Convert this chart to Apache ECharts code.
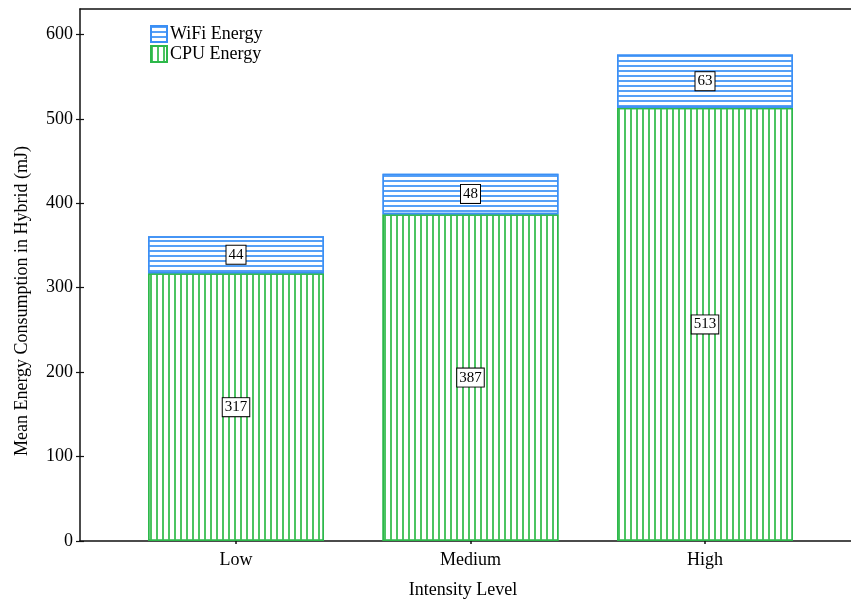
<!DOCTYPE html>
<html>
<head>
<meta charset="utf-8">
<script src="https://cdn.jsdelivr.net/npm/echarts@6/dist/echarts.min.js"></script>
<style>
  html, body { margin: 0; padding: 0; background: #fff; }
  #chart { width: 851px; height: 603px; }
</style>
</head>
<body>
<div id="chart"></div>
<script>
// Stacked energy consumption per intensity level
const categories = ['Low', 'Medium', 'High'];
const cpuEnergy = [317, 387, 513];
const wifiEnergy = [44, 48, 63];
const yTicks = [0, 100, 200, 300, 400, 500, 600];

const FONT = 'Liberation Serif';
const BLUE = '#3b8ff5';
const GREEN = '#2db84a';

const labelBox = {
  show: true,
  position: 'inside',
  color: '#000',
  fontFamily: FONT,
  fontSize: 15,
  backgroundColor: '#fff',
  borderColor: '#000',
  borderWidth: 1,
  padding: [2, 2, 1, 2]
};

const frameLine = { show: true, onZero: false, lineStyle: { color: '#111', width: 1.5 } };

const chart = echarts.init(document.getElementById('chart'), null, { renderer: 'canvas' });

chart.setOption({
  animation: false,
  backgroundColor: '#fff',
  grid: [
    // frame and value axis (runs past the right edge)
    { left: 80, top: 9, width: 781, height: 532 },
    // bars
    { left: 118.75, top: 9, width: 703.5, height: 532 }
  ],
  legend: {
    orient: 'vertical',
    left: 150,
    top: 25,
    padding: 0,
    itemWidth: 16,
    itemHeight: 16,
    itemGap: 2,
    icon: 'rect',
    data: ['WiFi Energy', 'CPU Energy'],
    textStyle: { fontFamily: FONT, fontSize: 18, color: '#000', padding: [0, 0, 0, -2] }
  },
  xAxis: [
    { type: 'value', gridIndex: 0, min: 0, max: 1, position: 'bottom',
      axisLine: frameLine, axisTick: { show: false }, axisLabel: { show: false }, splitLine: { show: false } },
    { type: 'value', gridIndex: 0, min: 0, max: 1, position: 'top',
      axisLine: frameLine, axisTick: { show: false }, axisLabel: { show: false }, splitLine: { show: false } },
    {
      type: 'category', gridIndex: 1, data: categories,
      axisLine: { show: false },
      axisTick: { show: true, alignWithLabel: true, length: 3, lineStyle: { color: '#111', width: 1.5 } },
      axisLabel: { fontFamily: FONT, fontSize: 18, color: '#000', margin: 10 }
    },
    {
      type: 'category', gridIndex: 1, data: categories, position: 'bottom',
      axisLine: { show: false },
      axisTick: { show: true, inside: true, alignWithLabel: true, length: 3, lineStyle: { color: '#111', width: 1.5 } },
      axisLabel: { show: false }
    }
  ],
  yAxis: [
    {
      type: 'value', gridIndex: 0, min: 0, max: 630,
      axisLine: frameLine,
      axisTick: { show: true, length: 4, lineStyle: { color: '#111', width: 1.2 }, customValues: yTicks },
      axisLabel: { fontFamily: FONT, fontSize: 18, color: '#000', margin: 7, customValues: yTicks },
      splitLine: { show: false }
    },
    {
      type: 'value', gridIndex: 0, min: 0, max: 630, position: 'left',
      axisLine: { show: false },
      axisTick: { show: true, inside: true, length: 4, lineStyle: { color: '#111', width: 1.2 }, customValues: yTicks },
      axisLabel: { show: false },
      splitLine: { show: false }
    },
    { type: 'value', gridIndex: 1, min: 0, max: 630, show: false, splitLine: { show: false } }
  ],
  series: [
    {
      name: 'CPU Energy', type: 'bar', stack: 'energy',
      xAxisIndex: 2, yAxisIndex: 2, barWidth: 176,
      data: cpuEnergy,
      itemStyle: {
        color: '#fff', borderColor: GREEN, borderWidth: 1.5,
        decal: { symbol: 'rect', symbolSize: 1, color: '#4cc462', dashArrayX: [1.1, 3.3], dashArrayY: [4, 0], rotation: 0 }
      },
      label: labelBox
    },
    {
      name: 'WiFi Energy', type: 'bar', stack: 'energy',
      xAxisIndex: 2, yAxisIndex: 2, barWidth: 176,
      data: wifiEnergy,
      itemStyle: {
        color: '#fff', borderColor: BLUE, borderWidth: 1.5,
        decal: { symbol: 'rect', symbolSize: 1, color: '#56a0f7', dashArrayX: [4, 0], dashArrayY: [1.1, 3], rotation: 0 }
      },
      label: labelBox
    }
  ],
  graphic: [
    {
      type: 'text', x: 463, y: 590,
      style: { text: 'Intensity Level', fontFamily: FONT, fontSize: 18, fill: '#000', align: 'center', verticalAlign: 'middle' }
    },
    {
      type: 'text', x: 22, y: 301, rotation: Math.PI / 2,
      style: { text: 'Mean Energy Consumption in Hybrid (mJ)', fontFamily: FONT, fontSize: 18, fill: '#000', align: 'center', verticalAlign: 'middle' }
    }
  ]
});
</script>
</body>
</html>
